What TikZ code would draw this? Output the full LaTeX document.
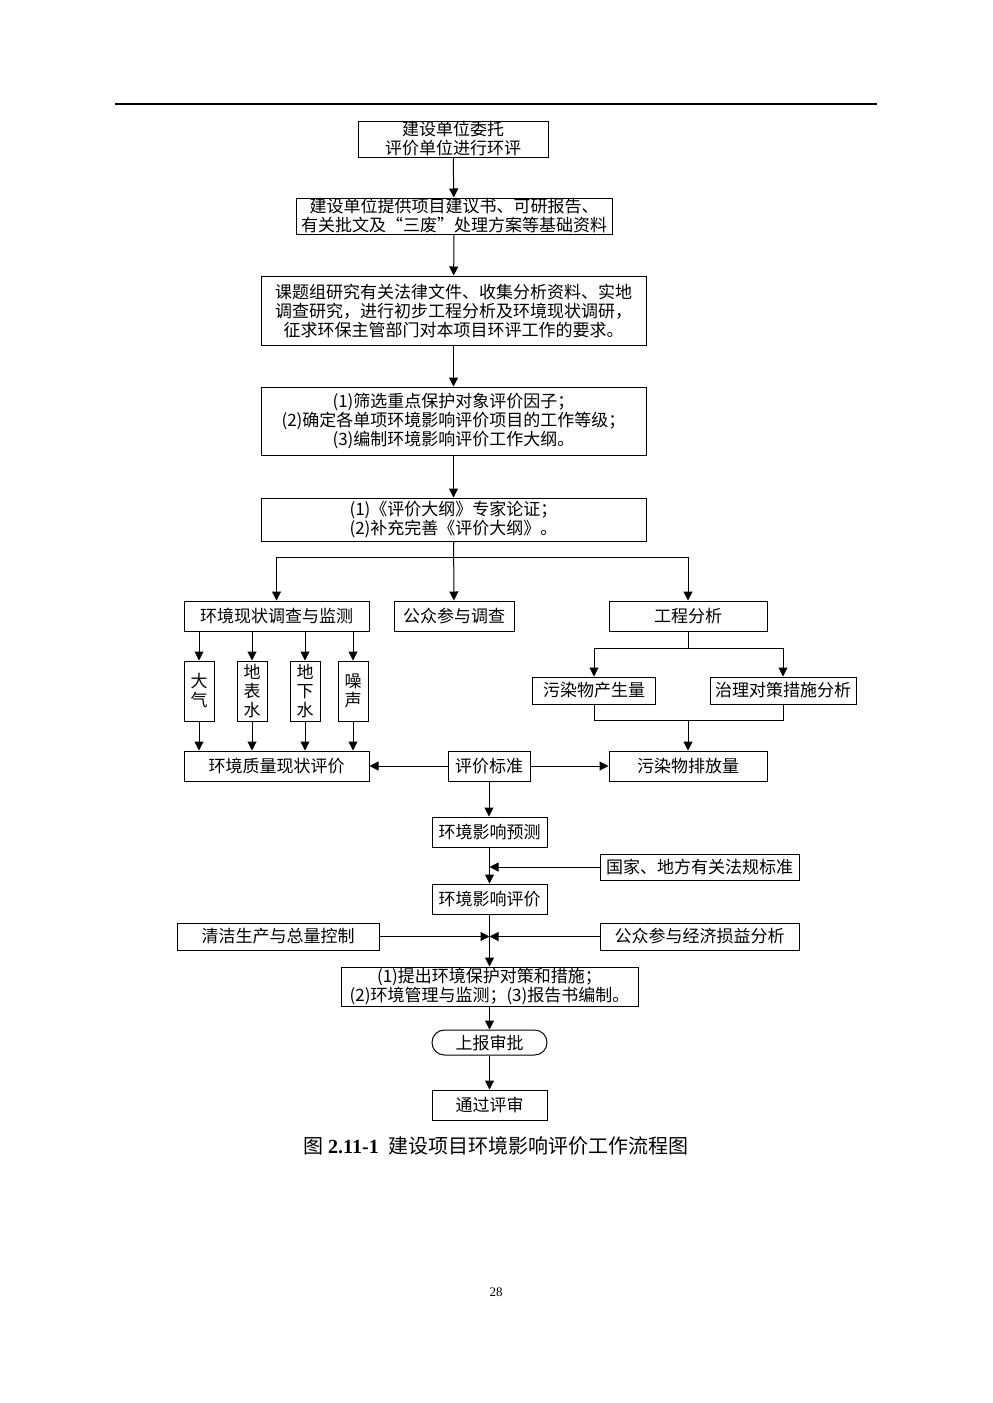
\documentclass[tikz,border=0pt]{standalone}
\usepackage{fontspec}
\setmainfont{Liberation Serif}
\newfontfamily\cjk{Noto Sans CJK SC}
\usetikzlibrary{arrows.meta,positioning}
\tikzset{%
	block/.style  = {draw, line width=0.5pt, rectangle, inner sep=0pt, align=center,
		font=\cjk\fontsize{8.5}{9.5}\selectfont}, % process box
	term/.style   = {block, rounded corners=6.2pt}, % report box
	conn/.style   = {line width=0.5pt},
	arr/.style    = {conn, -{Triangle[length=4.5pt,width=4.5pt]}},
	junct/.style  = {coordinate}
}

\begin{document}
\begin{tikzpicture}[x=0.5pt,y=-0.5pt]
	\useasboundingbox (0,0) rectangle (992,1403);
	\draw[line width=1.1pt] (115,104) -- (877,104);

	% main chain
	\node[block, minimum width=95pt, minimum height=18pt] (wt) at (453,139) {建设单位委托\\评价单位进行环评};
	\node[block, minimum width=158pt, minimum height=18pt] (zl) at (454,216) {建设单位提供项目建议书、可研报告、\\有关批文及“三废”处理方案等基础资料};
	\node[block, minimum width=192.5pt, minimum height=34.5pt] (yj) at (453.5,310.5) {课题组研究有关法律文件、收集分析资料、实地\\调查研究，进行初步工程分析及环境现状调研，\\征求环保主管部门对本项目环评工作的要求。};
	\node[block, minimum width=192.5pt, minimum height=34pt] (sx) at (453.5,421) {(1)筛选重点保护对象评价因子；\\(2)确定各单项环境影响评价项目的工作等级；\\(3)编制环境影响评价工作大纲。};
	\node[block, minimum width=192.5pt, minimum height=21.5pt] (dg) at (453.5,519.5) {(1)《评价大纲》专家论证；\\(2)补充完善《评价大纲》。};

	\draw[arr] (wt) -- (zl);
	\draw[arr] (zl) -- (yj);
	\draw[arr] (yj) -- (sx);
	\draw[arr] (sx) -- (dg);

	% three branches
	\node[block, minimum width=92.5pt, minimum height=15pt] (xz) at (276.5,616) {环境现状调查与监测};
	\node[block, minimum width=60pt, minimum height=15pt] (gz) at (454,616) {公众参与调查};
	\node[block, minimum width=79pt, minimum height=15pt] (gc) at (688,616) {工程分析};
	\node[junct] (fz) at (454,557) {};

	\draw[arr] (dg) -- (gz);
	\draw[arr] (fz) -| (xz.north);
	\draw[arr] (fz) -| (gc.north);

	% current state survey
	\node[block, minimum width=15pt, minimum height=30pt] (dq) at (199,691) {大\\气};
	\node[block, minimum width=15pt, minimum height=30pt] (db) at (252,691) {地\\表\\水};
	\node[block, minimum width=15pt, minimum height=30pt] (dx) at (305,691) {地\\下\\水};
	\node[block, minimum width=15pt, minimum height=30pt] (zs) at (353,691) {噪\\声};
	\node[block, minimum width=92.5pt, minimum height=15pt] (xp) at (276.5,766) {环境质量现状评价};

	\foreach \k in {dq,db,dx,zs} {
		\draw[arr] (\k.north |- xz.south) -- (\k.north);
		\draw[arr] (\k.south) -- (\k.south |- xp.north);
	}

	% engineering analysis
	\node[block, minimum width=61.5pt, minimum height=13.5pt] (cs) at (594,690.5) {污染物产生量};
	\node[block, minimum width=73pt, minimum height=13.5pt] (zc) at (783,690.5) {治理对策措施分析};
	\node[block, minimum width=79pt, minimum height=15pt] (pf) at (688,766) {污染物排放量};
	\node[junct] (gf) at (688,648) {};
	\node[junct] (hb) at (688,720) {};

	\draw[conn] (gc) -- (gf);
	\draw[arr] (gf) -| (cs.north);
	\draw[arr] (gf) -| (zc.north);
	\draw[conn] (cs.south) |- (hb) -| (zc.south);
	\draw[arr] (hb) -- (pf);

	% standards and prediction
	\node[block, minimum width=41pt, minimum height=15pt] (bz) at (489,766) {评价标准};
	\node[block, minimum width=57.5pt, minimum height=15pt] (yc) at (489.5,832) {环境影响预测};
	\node[block, minimum width=57.5pt, minimum height=15pt] (pj) at (489.5,899) {环境影响评价};
	\node[block, minimum width=99.5pt, minimum height=13pt] (fg) at (699.5,867) {国家、地方有关法规标准};

	\draw[arr] (bz) -- (xp);
	\draw[arr] (bz) -- (pf);
	\draw[arr] (bz.south) -- (bz.south |- yc.north);
	\draw[arr] (yc) -- (pj);
	\draw[arr] (fg.west) -- (fg.west -| yc.south);

	% measures
	\node[block, minimum width=101pt, minimum height=13.5pt] (qj) at (278,936.5) {清洁生产与总量控制};
	\node[block, minimum width=99.5pt, minimum height=13.5pt] (gj) at (699.5,936.5) {公众参与经济损益分析};
	\node[block, minimum width=148.5pt, minimum height=19.5pt] (cx) at (489.5,986.5) {(1)提出环境保护对策和措施；\\(2)环境管理与监测；(3)报告书编制。};
	\node[term, minimum width=57.5pt, minimum height=12.5pt] (sb) at (489.5,1042.5) {上报审批};
	\node[block, minimum width=57.5pt, minimum height=15pt] (ps) at (489.5,1105) {通过评审};

	\draw[arr] (pj) -- (cx);
	\draw[arr] (qj.east) -- (qj.east -| pj.south);
	\draw[arr] (gj.west) -- (gj.west -| pj.south);
	\draw[arr] (cx) -- (sb);
	\draw[arr] (sb) -- (ps);

	% caption and page number
	\node (cap) at (496,1146) {\fontsize{10}{12}\selectfont{\cjk 图} \textbf{2.11-1}\hspace{5pt}{\cjk 建设项目环境影响评价工作流程图}};
	\node[font=\fontsize{6.5}{8}\selectfont] (pg) at (496,1292) {28};
\end{tikzpicture}
\end{document}
